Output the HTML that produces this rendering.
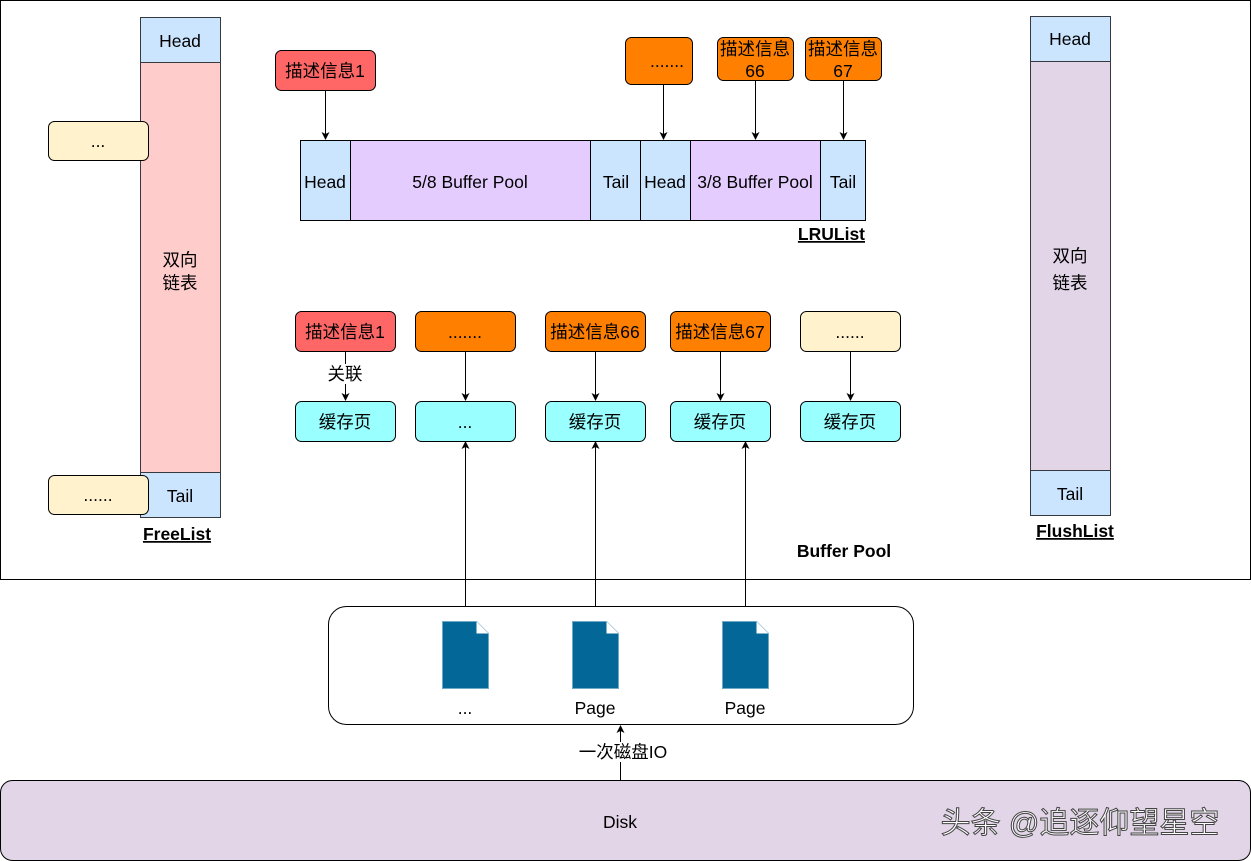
<!DOCTYPE html>
<html><head><meta charset="utf-8"><style>html,body{margin:0;padding:0;background:#fff}svg{display:block}text{font-family:"Liberation Sans","Noto Sans CJK SC",sans-serif;font-size:17.5px;fill:#000}</style></head><body>
<svg width="1251" height="861" viewBox="0 0 1251 861" xmlns="http://www.w3.org/2000/svg">
<defs><marker id="a" markerWidth="8" markerHeight="8" refX="7" refY="4" orient="auto" markerUnits="userSpaceOnUse"><path d="M0,0 L8,4 L0,8 L2,4 z" fill="#000"/></marker></defs>
<rect x="0.5" y="0.5" width="1250" height="579" fill="#fff" stroke="#000"/>
<!-- FreeList -->
<rect x="140.5" y="17.5" width="80" height="45" fill="#cce5ff" stroke="#36393d"/>
<rect x="140.5" y="62.5" width="80" height="410" fill="#ffcccc" stroke="#36393d"/>
<rect x="140.5" y="472.5" width="80" height="45" fill="#cce5ff" stroke="#36393d"/>
<text x="180" y="47" text-anchor="middle">Head</text>
<text x="180" y="266" text-anchor="middle">双向</text>
<text x="180" y="289" text-anchor="middle">链表</text>
<text x="180" y="502" text-anchor="middle">Tail</text>
<text x="177" y="540" text-anchor="middle" font-weight="bold" text-decoration="underline">FreeList</text>
<rect x="48.5" y="121.5" width="100" height="39" rx="6" fill="#fff2cc" stroke="#000"/>
<text x="98" y="147" text-anchor="middle">...</text>
<rect x="48.5" y="475.5" width="100" height="39" rx="6" fill="#fff2cc" stroke="#000"/>
<text x="98" y="501" text-anchor="middle">......</text>
<!-- FlushList -->
<rect x="1030.5" y="16.5" width="80" height="45" fill="#cce5ff" stroke="#36393d"/>
<rect x="1030.5" y="61.5" width="80" height="409" fill="#e1d5e7" stroke="#36393d"/>
<rect x="1030.5" y="470.5" width="80" height="45" fill="#cce5ff" stroke="#36393d"/>
<text x="1070" y="45" text-anchor="middle">Head</text>
<text x="1070" y="262" text-anchor="middle">双向</text>
<text x="1070" y="289" text-anchor="middle">链表</text>
<text x="1070" y="500" text-anchor="middle">Tail</text>
<text x="1075" y="537" text-anchor="middle" font-weight="bold" text-decoration="underline">FlushList</text>
<!-- LRU -->
<rect x="300.5" y="140.5" width="50" height="80" fill="#cce5ff" stroke="#000"/>
<rect x="350.5" y="140.5" width="240" height="80" fill="#e5ccff" stroke="#000"/>
<rect x="590.5" y="140.5" width="50" height="80" fill="#cce5ff" stroke="#000"/>
<rect x="640.5" y="140.5" width="50" height="80" fill="#cce5ff" stroke="#000"/>
<rect x="690.5" y="140.5" width="130" height="80" fill="#e5ccff" stroke="#000"/>
<rect x="820.5" y="140.5" width="45" height="80" fill="#cce5ff" stroke="#000"/>
<text x="325" y="188" text-anchor="middle">Head</text>
<text x="470" y="188" text-anchor="middle">5/8 Buffer Pool</text>
<text x="616" y="188" text-anchor="middle">Tail</text>
<text x="665" y="188" text-anchor="middle">Head</text>
<text x="755" y="188" text-anchor="middle">3/8 Buffer Pool</text>
<text x="843" y="188" text-anchor="middle">Tail</text>
<text x="865" y="240" text-anchor="end" font-weight="bold" text-decoration="underline">LRUList</text>
<rect x="275.5" y="50.5" width="100" height="40" rx="6" fill="#f66" stroke="#000"/>
<text x="325" y="77" text-anchor="middle">描述信息1</text>
<rect x="625.5" y="37.5" width="67" height="47" rx="6" fill="#ff8000" stroke="#000"/>
<text x="667" y="67" text-anchor="middle">.......</text>
<rect x="717.5" y="37.5" width="76" height="43" rx="6" fill="#ff8000" stroke="#000"/>
<text x="755" y="55" text-anchor="middle">描述信息</text><text x="755" y="77" text-anchor="middle">66</text>
<rect x="805.5" y="37.5" width="76" height="43" rx="6" fill="#ff8000" stroke="#000"/>
<text x="843" y="55" text-anchor="middle">描述信息</text><text x="843" y="77" text-anchor="middle">67</text>
<g stroke="#000" marker-end="url(#a)">
<line x1="325.5" y1="91" x2="325.5" y2="139"/>
<line x1="663.5" y1="85" x2="663.5" y2="139"/>
<line x1="755.5" y1="81" x2="755.5" y2="139"/>
<line x1="843.5" y1="81" x2="843.5" y2="139"/>
</g>
<!-- middle rows -->
<rect x="295.5" y="311.5" width="100" height="40" rx="6" fill="#f66" stroke="#000"/>
<text x="345" y="338" text-anchor="middle">描述信息1</text>
<rect x="415.5" y="311.5" width="100" height="40" rx="6" fill="#ff8000" stroke="#000"/>
<text x="465" y="338" text-anchor="middle">.......</text>
<rect x="545.5" y="311.5" width="100" height="40" rx="6" fill="#ff8000" stroke="#000"/>
<text x="595" y="338" text-anchor="middle">描述信息66</text>
<rect x="670.5" y="311.5" width="100" height="40" rx="6" fill="#ff8000" stroke="#000"/>
<text x="720" y="338" text-anchor="middle">描述信息67</text>
<rect x="800.5" y="311.5" width="100" height="40" rx="6" fill="#fff2cc" stroke="#000"/>
<text x="850" y="338" text-anchor="middle">......</text>
<g fill="#99ffff" stroke="#000">
<rect x="295.5" y="401.5" width="100" height="40" rx="6"/>
<rect x="415.5" y="401.5" width="100" height="40" rx="6"/>
<rect x="545.5" y="401.5" width="100" height="40" rx="6"/>
<rect x="670.5" y="401.5" width="100" height="40" rx="6"/>
<rect x="800.5" y="401.5" width="100" height="40" rx="6"/>
</g>
<text x="345" y="428" text-anchor="middle">缓存页</text>
<text x="465" y="428" text-anchor="middle">...</text>
<text x="595" y="428" text-anchor="middle">缓存页</text>
<text x="720" y="428" text-anchor="middle">缓存页</text>
<text x="850" y="428" text-anchor="middle">缓存页</text>
<g stroke="#000" marker-end="url(#a)">
<line x1="345.5" y1="352" x2="345.5" y2="400"/>
<line x1="465.5" y1="352" x2="465.5" y2="400"/>
<line x1="595.5" y1="352" x2="595.5" y2="400"/>
<line x1="720.5" y1="352" x2="720.5" y2="400"/>
<line x1="850.5" y1="352" x2="850.5" y2="400"/>
<line x1="465.5" y1="618" x2="465.5" y2="442"/>
<line x1="595.5" y1="618" x2="595.5" y2="442"/>
<line x1="745.5" y1="618" x2="745.5" y2="442"/>
</g>
<rect x="326" y="364" width="38" height="20" fill="#fff"/>
<text x="345" y="380" text-anchor="middle">关联</text>
<text x="844" y="557" text-anchor="middle" font-weight="bold">Buffer Pool</text>
<!-- pages -->
<rect x="328.5" y="606.5" width="585" height="118" rx="18" fill="#fff" stroke="#000"/>
<g fill="#036897" stroke="#6ea9c6" stroke-width="1">
<path d="M442.5,621.5 h34 l12,12 v55 h-46 z"/>
<path d="M572.5,621.5 h34 l12,12 v55 h-46 z"/>
<path d="M722.5,621.5 h34 l12,12 v55 h-46 z"/>
</g>
<g fill="#fff"><path d="M476.5,621.5 v12 h12 z"/><path d="M606.5,621.5 v12 h12 z"/><path d="M756.5,621.5 v12 h12 z"/></g>
<text x="465" y="714" text-anchor="middle">...</text>
<text x="595" y="714" text-anchor="middle">Page</text>
<text x="745" y="714" text-anchor="middle">Page</text>
<!-- disk -->
<rect x="0.5" y="780.5" width="1250" height="80" rx="12" fill="#e1d5e7" stroke="#000"/>
<text x="620" y="828" text-anchor="middle">Disk</text>
<line x1="620.5" y1="780" x2="620.5" y2="726" stroke="#000" marker-end="url(#a)"/>
<rect x="576" y="742" width="96" height="20" fill="#fff"/>
<text x="623" y="758" text-anchor="middle">一次磁盘IO</text>
<text x="1080" y="833" text-anchor="middle" style="font-size:30px;fill:#fff;stroke:#444;stroke-width:1">头条 @追逐仰望星空</text>
</svg>
</body></html>
